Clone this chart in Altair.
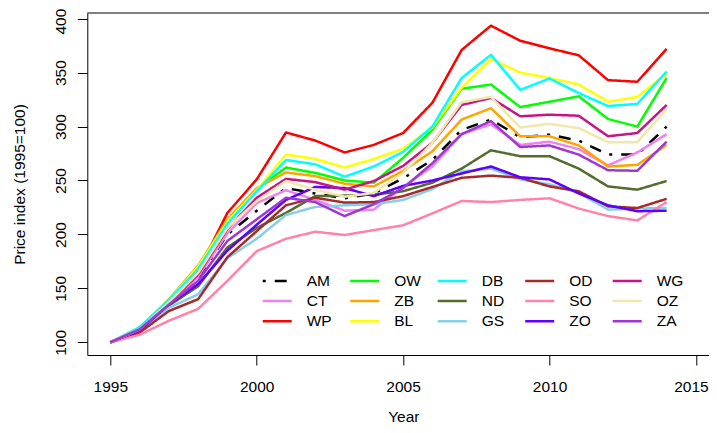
import altair as alt
import pandas as pd

years = list(range(1995, 2015))

AM = [100, 112, 135, 160, 200, 222, 243, 238, 233.5, 238, 252, 269, 297, 306.5, 290, 292.5, 287, 274, 274, 300]
CT = [100, 112, 134, 161, 201, 229, 241, 232, 222, 223, 244, 263, 293, 302, 283, 286, 279, 264, 276, 293]
WP = [100, 112, 137, 166, 220, 251, 294.5, 287, 276, 283, 294, 322, 371, 393.5, 379.5, 372.5, 366, 343, 341.5, 372]
OW = [100, 113, 138, 169, 213, 242, 262, 257, 250, 248, 271, 297, 335, 339, 318, 323, 328, 307, 300, 345]
ZB = [100, 113, 140, 171, 214, 243, 257.5, 254, 247, 244.5, 259, 277, 306.5, 317, 291, 291, 282.5, 263, 264.5, 283]
BL = [100, 113, 139, 170, 212, 241, 274, 270, 262, 270, 279.5, 299, 336, 362.5, 350, 345, 339, 323, 327.5, 349]
DB = [100, 114, 139, 168, 210, 240, 269, 265, 253.5, 263, 276.5, 300, 345, 366.5, 334, 344.5, 331, 319, 321, 351]
ND = [100, 111, 134, 152, 188, 206, 220, 235.5, 236, 237, 240, 248, 261, 278, 272.5, 272.5, 261, 244.5, 241.5, 249.5]
GS = [100, 111, 132, 144.5, 178, 196, 218, 225.5, 227, 228, 232, 242, 258.5, 261, 251, 246.5, 238.5, 223, 224, 224.5]
OD = [100, 109, 129, 140, 179, 203, 227, 234, 229.5, 230, 235.5, 244, 252.5, 254.5, 252.5, 244.5, 240, 226, 224.5, 233]
SO = [100, 107, 120, 131, 157, 184.5, 196, 202.5, 199.5, 204, 208.5, 219.5, 231, 230, 232, 233.5, 224, 217, 213, 230]
ZO = [100, 111, 135, 154, 185, 209, 232, 244, 243, 235.5, 245, 250, 256.5, 263, 253, 251, 238, 227, 221.5, 222]
WG = [100, 112, 136, 163, 205, 234, 251.5, 248.5, 241.5, 249.5, 263.5, 285, 320, 326.5, 309.5, 311, 310, 291, 294, 320]
OZ = [100, 112, 137, 164.5, 206, 231, 249.5, 241.5, 235, 238.5, 257, 285, 322.5, 327.5, 299, 302.5, 298.5, 285.5, 285.5, 316]
ZA = [100, 112, 135, 157, 194, 214, 234, 230, 217, 228, 243, 266, 293, 305, 281, 282.5, 274, 259.5, 259, 286]

series = {"AM": AM, "CT": CT, "WP": WP, "OW": OW, "ZB": ZB, "BL": BL, "DB": DB,
          "ND": ND, "GS": GS, "OD": OD, "SO": SO, "ZO": ZO, "WG": WG, "OZ": OZ, "ZA": ZA}

colors = {"AM": "#000000", "CT": "#EE82EE", "WP": "#FF0000", "OW": "#00FF00",
          "ZB": "#FFA500", "BL": "#FFFF00", "DB": "#00FFFF", "ND": "#556B2F",
          "GS": "#87CEEB", "OD": "#A52A2A", "SO": "#FF82AB", "ZO": "#5E00FF",
          "WG": "#C71585", "OZ": "#EEE8AA", "ZA": "#9F38D0"}

# legend fills column by column (3 rows x 5 columns)
legend_order = list(series.keys())

x_ticks = [1995, 2000, 2005, 2010, 2015]
y_ticks = [100, 150, 200, 250, 300, 350, 400]

rows = []
for name, vals in series.items():
    for yr, v in zip(years, vals):
        rows.append({"Year": yr, "Index": v, "Region": name})
df = pd.DataFrame(rows)

W = 621.7
H = 342
FONT = "Liberation Sans"
FS = 15.5

x_scale = alt.Scale(domain=[1994.2145, 1994.2145 + W / 29.28], nice=False, zero=False)
y_scale = alt.Scale(domain=[88.26, 405.24], nice=False, zero=False)

dash_range = [[3, 9, 12, 9] if n == "AM" else [1, 0] for n in legend_order]
color_range = [colors[n] for n in legend_order]

leg = alt.Legend(
    title=None, orient="none", legendX=173.9, legendY=259.7, columns=5,
    symbolType="stroke", symbolSize=841, symbolStrokeWidth=2.6, clipHeight=16,
    labelFont=FONT, labelFontSize=FS, labelColor="black", labelOffset=13.5,
    columnPadding=14.5, rowPadding=3.3, gridAlign="all", padding=0,
)

lines = alt.Chart(df).mark_line(strokeWidth=2.5, strokeCap="butt", strokeJoin="round").encode(
    x=alt.X("Year:Q", scale=x_scale,
            axis=alt.Axis(values=x_ticks, format="d", title="Year", tickSize=10,
                          labelPadding=26.2, labelBaseline="alphabetic", labelFlush=False,
                          labelOverlap=False, titleX=316, titleY=66,
                          labelOffset={"condition": {"test": "datum.value == 2015", "value": -5}, "value": 0},
                          titleBaseline="alphabetic", titleAlign="center")),
    y=alt.Y("Index:Q", scale=y_scale,
            axis=alt.Axis(values=y_ticks, format="d", title="Price index (1995=100)",
                          tickSize=10, labelAngle=270, labelAlign="center",
                          labelBaseline="alphabetic", labelPadding=11.8,
                          labelOverlap=False, labelFlush=False,
                          labelOffset={"condition": {"test": "datum.value == 400", "value": 2.5}, "value": 0},
                          titleAngle=270, titleAlign="center", titleBaseline="alphabetic",
                          titleX=-62.7, titleY=171)),
    color=alt.Color("Region:N", scale=alt.Scale(domain=legend_order, range=color_range), legend=leg),
    strokeDash=alt.StrokeDash("Region:N", scale=alt.Scale(domain=legend_order, range=dash_range), legend=leg),
)

top_border = alt.Chart(pd.DataFrame({"t": [0]})).mark_rule(color="black", strokeWidth=1).encode(
    y=alt.value(0), x=alt.value(0), x2=alt.value(W)
)

chart = alt.layer(lines, top_border).properties(
    width=W, height=H,
    padding={"left": 79.3, "top": 5, "right": 0, "bottom": 70},
    autosize=alt.AutoSizeParams(type="none"),
    background="white",
).configure_view(stroke=None).configure_axis(
    grid=False, domainColor="black", domainWidth=1, tickColor="black", tickWidth=1,
    labelColor="black", titleColor="black", labelFont=FONT, titleFont=FONT,
    labelFontSize=FS, titleFontSize=FS, titleFontWeight="normal",
)

chart.save("out.html", embed_options={"renderer": "svg", "actions": False})
